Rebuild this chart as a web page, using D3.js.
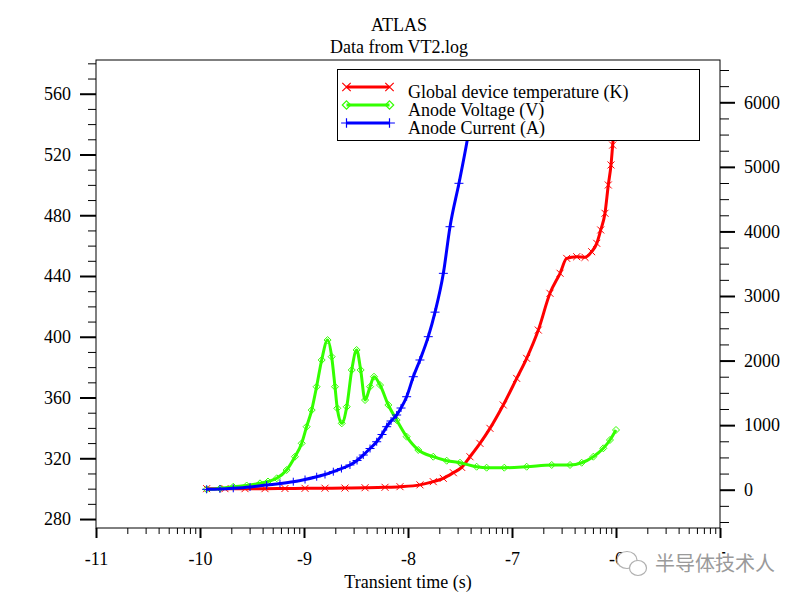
<!DOCTYPE html>
<html>
<head>
<meta charset="utf-8">
<script src="https://cdn.jsdelivr.net/npm/d3@7"></script>
<style>
  html, body { margin: 0; padding: 0; background: #fff; }
  svg { display: block; font-family: "Liberation Serif", "Times New Roman", serif; }
</style>
</head>
<body>
<svg id="chart" width="800" height="600"></svg>
<script>
// ---------- DATA (x = log10 of transient time in s) ----------
const tempLogT = [-9.936,-9.760,-9.567,-9.375,-9.183,-8.990,-8.798,-8.606,-8.413,-8.221,-8.077,-7.885,
  -7.757,-7.661,-7.564,-7.484,-7.404,-7.308,-7.212,-7.084,-6.955,-6.859,-6.747,-6.635,-6.538,-6.474,
  -6.378,-6.298,-6.234,-6.185,-6.147,-6.106,-6.074,-6.048,-6.032,-6.0];
const tempK = [300,300,300,300,300.1,300.2,300.3,300.4,300.6,300.9,301.3,302.5,
  304.6,306.8,310.5,314.0,321.0,329.8,339.7,355.1,372.6,385.8,404.4,428.6,441.8,451.6,
  452.7,452.3,456.0,461.5,470.3,481.3,499.9,513.1,526.2,552];

const voltLogT = [-9.936,-9.808,-9.680,-9.551,-9.423,-9.346,-9.262,-9.167,-9.087,-9.022,-8.975,-8.926,
  -8.879,-8.830,-8.773,-8.734,-8.702,-8.680,-8.637,-8.589,-8.541,-8.494,-8.455,-8.413,-8.365,-8.327,
  -8.269,-8.189,-8.109,-8.013,-7.901,-7.757,-7.628,-7.500,-7.340,-7.244,-7.074,-6.859,-6.618,-6.442,
  -6.330,-6.218,-6.122,-6.058,-6.0];
const voltV = [6,19,46,65,99,127,177,305,511,719,976,1234,
  1595,2009,2318,2060,1595,1261,1028,1285,1854,2164,1854,1389,1595,1750,
  1621,1312,1079,821,615,511,449,418,356,341,341,356,383,383,
  418,511,641,770,925];

const currLogT = [-9.936,-9.808,-9.680,-9.519,-9.359,-9.231,-9.103,-8.990,-8.878,-8.798,-8.718,-8.640,
  -8.558,-8.490,-8.430,-8.365,-8.301,-8.250,-8.205,-8.163,-8.109,-8.067,-8.013,-7.949,-7.885,-7.805,
  -7.740,-7.660,-7.596,-7.510,-7.430,-7.375];
const currA = [6,11,22,42,73,96,124,158,201,235,279,328,
  383,452,537,638,743,855,976,1064,1157,1265,1440,1750,2009,2370,
  2750,3351,4073,4745,5416,5950];

const xTickValues = [-11,-10,-9,-8,-7,-6,-5];
const xTickLabels = ["-11","-10","-9","-8","-7","-6","-5"];
const leftTickValues = [280,320,360,400,440,480,520,560];
const rightTickValues = [0,1000,2000,3000,4000,5000,6000];

const titleLines = ["ATLAS", "Data from VT2.log"];
const xAxisTitle = "Transient time (s)";
const legendLabels = ["Global device temperature (K)", "Anode Voltage (V)", "Anode Current (A)"];
const watermarkText = "半导体技术人";

// ---------- LAYOUT ----------
const L = 96, R = 720, T = 60, B = 528;
const svg = d3.select("#chart");
const FS = 18;

const x = d3.scaleLinear().domain([-11, -5]).range([L, R]);
const yL = d3.scaleLinear().domain([274.1, 582.2]).range([B, T]);
const yR = d3.scaleLinear().domain([-593, 6655]).range([B, T]);

// minor ticks
const xMinor = [];
for (let n = -11; n < -5; n++) for (let k = 2; k <= 9; k++) xMinor.push(n + Math.log10(k));
const leftMinor = d3.range(280, 581, 10).filter(v => v % 40 !== 0);
const rightMinor = d3.range(-500, 6501, 250).filter(v => v % 1000 !== 0);

function styleAxis(g, w) {
  g.select(".domain").remove();
  g.selectAll(".tick line").attr("stroke", "#000").attr("stroke-width", w);
  g.selectAll("text").attr("font-size", FS).attr("fill", "#000")
    .attr("font-family", '"Liberation Serif", "Times New Roman", serif');
}

// bottom axis
svg.append("g").attr("transform", `translate(0,${B})`)
  .call(d3.axisBottom(x).tickValues(xMinor).tickSize(6).tickFormat(""))
  .call(g => styleAxis(g, 1));
svg.append("g").attr("transform", `translate(0,${B})`)
  .call(d3.axisBottom(x).tickValues(xTickValues).tickSize(10).tickPadding(14)
    .tickFormat((d, i) => xTickLabels[i]))
  .call(g => styleAxis(g, 2))
  .call(g => g.selectAll("text").attr("dy", "0.71em"));

// left axis
svg.append("g").attr("transform", `translate(${L},0)`)
  .call(d3.axisLeft(yL).tickValues(leftMinor).tickSize(8).tickFormat(""))
  .call(g => styleAxis(g, 1));
svg.append("g").attr("transform", `translate(${L},0)`)
  .call(d3.axisLeft(yL).tickValues(leftTickValues).tickSize(16).tickPadding(9).tickFormat(d3.format("d")))
  .call(g => styleAxis(g, 2));

// right axis
svg.append("g").attr("transform", `translate(${R},0)`)
  .call(d3.axisRight(yR).tickValues(rightMinor).tickSize(9).tickFormat(""))
  .call(g => styleAxis(g, 1));
svg.append("g").attr("transform", `translate(${R},0)`)
  .call(d3.axisRight(yR).tickValues(rightTickValues).tickSize(15).tickPadding(9).tickFormat(d3.format("d")))
  .call(g => styleAxis(g, 2));

// frame
svg.append("rect").attr("x", L).attr("y", T).attr("width", R - L).attr("height", B - T)
  .attr("fill", "none").attr("stroke", "#000").attr("stroke-width", 1);

// clip
svg.append("clipPath").attr("id", "plotclip")
  .append("rect").attr("x", L).attr("y", T).attr("width", R - L).attr("height", B - T);
const plot = svg.append("g").attr("clip-path", "url(#plotclip)");

// marker path generators (centered at 0,0)
const S = 3.5;
const markerPath = {
  x: `M${-S},${-S}L${S},${S}M${-S},${S}L${S},${-S}`,
  diamond: `M0,${-S}L${S},0L0,${S}L${-S},0Z`,
  plus: `M${-S - 1},0L${S + 1},0M0,${-S - 0.5}L0,${S + 0.5}`
};

const series = [
  { xs: tempLogT, ys: tempK, y: yL, color: "#ff0000", marker: "x" },
  { xs: voltLogT, ys: voltV, y: yR, color: "#33ff00", marker: "diamond" },
  { xs: currLogT, ys: currA, y: yR, color: "#0000ff", marker: "plus" }
];

series.forEach(s => {
  const pts = s.xs.map((v, i) => [v, s.ys[i]]);
  const line = d3.line().x(d => x(d[0])).y(d => s.y(d[1])).curve(d3.curveMonotoneX);
  plot.append("path").attr("d", line(pts)).attr("fill", "none")
    .attr("stroke", s.color).attr("stroke-width", 3).attr("stroke-linejoin", "round");
  plot.selectAll(null).data(pts).enter().append("path")
    .attr("transform", d => `translate(${x(d[0])},${s.y(d[1])})`)
    .attr("d", markerPath[s.marker])
    .attr("fill", "none").attr("stroke", s.color).attr("stroke-width", 1);
});

// titles
titleLines.forEach((t, i) => {
  svg.append("text").attr("x", 399).attr("y", 31 + i * 22).attr("text-anchor", "middle")
    .attr("font-size", FS).attr("fill", "#000").text(t);
});
svg.append("text").attr("x", 408).attr("y", 588).attr("text-anchor", "middle")
  .attr("font-size", FS).attr("fill", "#000").text(xAxisTitle);

// legend
const lg = svg.append("g");
lg.append("rect").attr("x", 337.5).attr("y", 69.5).attr("width", 362).attr("height", 71)
  .attr("fill", "#fff").attr("stroke", "#000").attr("stroke-width", 1);
legendLabels.forEach((lab, i) => {
  const s = series[i];
  const yy = 87 + i * 18;
  lg.append("line").attr("x1", 346.5).attr("x2", 389.5).attr("y1", yy).attr("y2", yy)
    .attr("stroke", s.color).attr("stroke-width", 3);
  [346.5, 389.5].forEach(px => {
    lg.append("path")
      .attr("d", markerPath[s.marker]).attr("fill", "none")
      .attr("stroke", s.color).attr("stroke-width", 1).attr("transform", `translate(${px},${yy}) scale(1.2)`);
  });
  lg.append("text").attr("x", 408).attr("y", yy + 11).attr("font-size", FS).attr("fill", "#000").text(lab);
});

// watermark
const wm = svg.append("g");
wm.append("ellipse").attr("cx", 627).attr("cy", 560).attr("rx", 10).attr("ry", 8.5)
  .attr("fill", "#fff").attr("stroke", "#b0b0b0").attr("stroke-width", 1.2);
wm.append("ellipse").attr("cx", 638).attr("cy", 568).attr("rx", 8.5).attr("ry", 7.5)
  .attr("fill", "#fff").attr("stroke", "#b0b0b0").attr("stroke-width", 1.2);
wm.append("text").attr("x", 655).attr("y", 571).attr("font-size", 20)
  .attr("font-family", '"Noto Sans CJK SC", sans-serif')
  .attr("fill", "#9a9a9a").attr("stroke", "#fff").attr("stroke-width", 4)
  .attr("paint-order", "stroke").text(watermarkText);
</script>
</body>
</html>
